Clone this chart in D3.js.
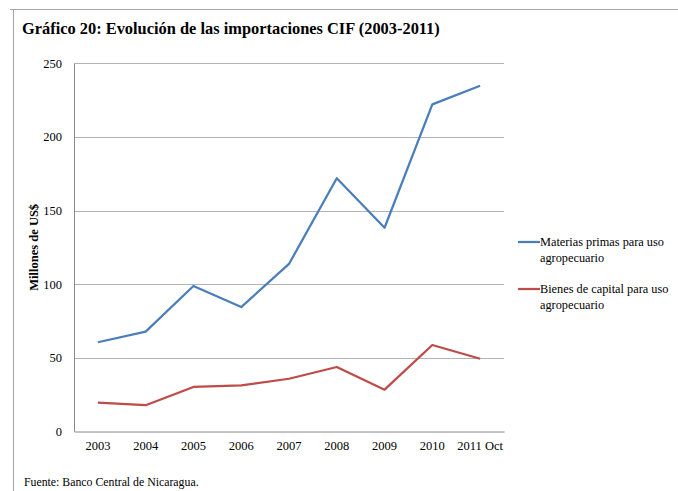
<!DOCTYPE html>
<html>
<head>
<meta charset="utf-8">
<script src="https://cdn.jsdelivr.net/npm/d3@7"></script>
<style>
  body { margin: 0; background: #fff; }
  svg { display: block; font-family: "Liberation Serif", "DejaVu Serif", serif; }
</style>
</head>
<body>
<svg id="chart"></svg>
<script>
// datos del gráfico
const years = ["2003", "2004", "2005", "2006", "2007", "2008", "2009", "2010", "2011 Oct"];
const materiasPrimas = [60.5, 67.7, 98.7, 84.4, 113.7, 171.9, 138.3, 222.1, 234.8];
const bienesCapital = [19.4, 17.7, 30.1, 31.2, 35.7, 43.7, 28.3, 58.6, 49.3];
const yTicks = [0, 50, 100, 150, 200, 250];

const series = [
    { name: ["Materias primas para uso", "agropecuario"], values: materiasPrimas, color: "#4a7ebb" },
    { name: ["Bienes de capital para uso", "agropecuario"], values: bienesCapital, color: "#be4b48" }
];

const width = 678, height = 491;
const margin = { top: 64, right: 174, bottom: 60, left: 74 };
const serif = "'Liberation Serif', 'DejaVu Serif', serif";

const svg = d3.select("#chart")
    .attr("width", width)
    .attr("height", height);

// marco de la página
svg.append("line")
    .attr("x1", 10).attr("x2", width).attr("y1", 9.5).attr("y2", 9.5)
    .attr("stroke", "#a6a6a6");
svg.append("line")
    .attr("x1", 13.5).attr("x2", 13.5).attr("y1", 9).attr("y2", height)
    .attr("stroke", "#a6a6a6");

// título
svg.append("text")
    .attr("x", 22).attr("y", 34)
    .style("font-size", "16.4px")
    .style("font-weight", "bold")
    .attr("fill", "#000")
    .text("Gráfico 20: Evolución de las importaciones CIF (2003-2011)");

const x = d3.scaleBand()
    .domain(years)
    .range([margin.left, width - margin.right]);

const y = d3.scaleLinear()
    .domain([0, 250])
    .range([height - margin.bottom + 0.3, margin.top - 0.7]);

// líneas de cuadrícula
svg.append("g")
    .selectAll("line")
    .data(yTicks.filter(d => d > 0))
    .join("line")
    .attr("x1", margin.left).attr("x2", width - margin.right)
    .attr("y1", d => Math.round(y(d)) + 0.5).attr("y2", d => Math.round(y(d)) + 0.5)
    .attr("stroke", "#b3b3b3");

// eje Y
const yAxis = svg.append("g")
    .attr("transform", `translate(${margin.left},0)`)
    .call(d3.axisLeft(y).tickValues(yTicks).tickSize(0).tickPadding(12))
    .attr("font-family", serif);
yAxis.select(".domain").attr("stroke", "#888");
yAxis.selectAll("text").style("font-size", "12.5px").attr("fill", "#000");

// eje X
const xAxis = svg.append("g")
    .attr("transform", `translate(0,${Math.round(y(0)) + 0.5})`)
    .call(d3.axisBottom(x).tickSize(0).tickPadding(10))
    .attr("font-family", serif);
xAxis.select(".domain").attr("stroke", "#888");
xAxis.selectAll("text").style("font-size", "12.5px").attr("fill", "#000");

// título del eje Y
svg.append("text")
    .attr("transform", `translate(38,${(y(0) + y(250)) / 2}) rotate(-90)`)
    .attr("text-anchor", "middle")
    .style("font-size", "12.5px")
    .style("font-weight", "bold")
    .text("Millones de US$");

// líneas de datos
const line = d3.line()
    .x((d, i) => x(years[i]) + x.bandwidth() / 2)
    .y(d => y(d));

svg.append("g")
    .selectAll("path")
    .data(series)
    .join("path")
    .attr("d", d => line(d.values))
    .attr("fill", "none")
    .attr("stroke", d => d.color)
    .attr("stroke-width", 2.25)
    .attr("stroke-linejoin", "round");

// leyenda
const legend = svg.append("g")
    .selectAll("g")
    .data(series)
    .join("g")
    .attr("transform", (d, i) => `translate(518,${242 + i * 47})`);

legend.append("line")
    .attr("x1", 0).attr("x2", 22)
    .attr("stroke", d => d.color)
    .attr("stroke-width", 2.25);

legend.append("text")
    .attr("x", 22)
    .attr("y", 4)
    .style("font-size", "12.3px")
    .selectAll("tspan")
    .data(d => d.name)
    .join("tspan")
    .attr("x", 22)
    .attr("dy", (d, i) => i === 0 ? 0 : 16)
    .text(d => d);

// fuente
svg.append("text")
    .attr("x", 24).attr("y", 486)
    .style("font-size", "11.8px")
    .text("Fuente: Banco Central de Nicaragua.");
</script>
</body>
</html>
